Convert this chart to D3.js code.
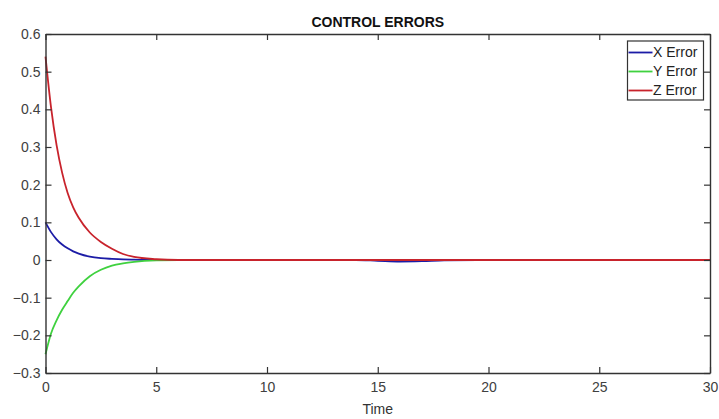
<!DOCTYPE html>
<html>
<head>
<meta charset="utf-8">
<script src="https://cdn.jsdelivr.net/npm/d3@7"></script>
<style>
  body { margin: 0; background: #fff; }
  text { font-family: "Liberation Sans", Arial, sans-serif; }
</style>
</head>
<body>
<div id="chart"></div>
<script>
// data
var time   = [0, 0.25, 0.5, 0.75, 1, 1.25, 1.5, 2, 2.5, 3, 3.5, 4, 5, 6, 8, 10, 12, 14, 15, 16, 17, 18, 20, 25, 30];
var xError = [0.1, 0.074, 0.055, 0.041, 0.031, 0.023, 0.017, 0.009, 0.005, 0.003, 0.0015, 0.0008, 0, 0, 0, 0, 0, 0, -0.002, -0.004, -0.003, -0.001, 0, 0, 0];
var yError = [-0.25, -0.195, -0.16, -0.132, -0.109, -0.087, -0.07, -0.043, -0.026, -0.015, -0.009, -0.005, -0.001, 0, 0, 0, 0, 0, 0, 0, 0, 0, 0, 0, 0];
var zError = [0.54, 0.405, 0.305, 0.232, 0.178, 0.14, 0.112, 0.073, 0.048, 0.03, 0.016, 0.008, 0.002, 0, 0, 0, 0, 0, 0, 0, 0, 0, 0, 0, 0];
var seriesNames = ["X Error", "Y Error", "Z Error"];
var seriesColors = ["#1c1ca6", "#3fd13f", "#c8232c"];
var xTicks = [0, 5, 10, 15, 20, 25, 30];
var yTicks = [-0.3, -0.2, -0.1, 0, 0.1, 0.2, 0.3, 0.4, 0.5, 0.6];

var W = 719, H = 419;
var margin = {top: 34, right: 9, bottom: 46, left: 45.5},
    width = W - margin.left - margin.right,
    height = H - margin.top - margin.bottom;

var svg = d3.select("#chart").append("svg")
    .attr("width", W)
    .attr("height", H);

var g = svg.append("g")
    .attr("transform", "translate(" + margin.left + "," + margin.top + ")");

var x = d3.scaleLinear().domain([0, 30]).range([0, width]);
var y = d3.scaleLinear().domain([-0.3, 0.6]).range([height, 0]);

var fmt = function(d) { return d === 0 ? "0" : d3.format("")(+d.toFixed(1)); };

// lines
var allSeries = [xError, yError, zError];
var line = d3.line()
    .x(function(d, i) { return x(time[i]); })
    .y(function(d) { return y(d); })
    .curve(d3.curveMonotoneX);

g.selectAll(".series")
    .data(allSeries)
    .enter().append("path")
    .attr("class", "series")
    .attr("fill", "none")
    .attr("stroke", function(d, i) { return seriesColors[i]; })
    .attr("stroke-width", 1.8)
    .attr("d", line);

// axes, ticks pointing inwards on all four sides
function styleAxis(sel) {
    sel.select(".domain").attr("stroke", "#333").attr("stroke-width", 1.4);
    sel.selectAll(".tick line").attr("stroke", "#333").attr("stroke-width", 1.2);
    sel.selectAll("text").attr("fill", "#404040").style("font-size", "14px")
        .style("font-family", "'Liberation Sans', Arial, sans-serif");
}

g.append("g")
    .attr("transform", "translate(0," + height + ")")
    .call(d3.axisBottom(x).tickValues(xTicks).tickSizeInner(-6).tickSizeOuter(0).tickPadding(9).tickFormat(fmt))
    .call(styleAxis);

g.append("g")
    .call(d3.axisLeft(y).tickValues(yTicks).tickSizeInner(-6).tickSizeOuter(0).tickPadding(5).tickFormat(fmt))
    .call(styleAxis);

g.append("g")
    .call(d3.axisTop(x).tickValues(xTicks).tickSizeInner(-6).tickSizeOuter(0).tickFormat(""))
    .call(styleAxis);

g.append("g")
    .attr("transform", "translate(" + width + ",0)")
    .call(d3.axisRight(y).tickValues(yTicks).tickSizeInner(-6).tickSizeOuter(0).tickFormat(""))
    .call(styleAxis);

// title and axis label
svg.append("text")
    .attr("x", margin.left + width / 2)
    .attr("y", 27)
    .attr("text-anchor", "middle")
    .style("font-size", "14px")
    .style("font-weight", "bold")
    .attr("fill", "#111")
    .text("CONTROL ERRORS");

svg.append("text")
    .attr("x", margin.left + width / 2)
    .attr("y", 414)
    .attr("text-anchor", "middle")
    .style("font-size", "14px")
    .attr("fill", "#333")
    .text("Time");

// legend
var legend = g.append("g")
    .attr("transform", "translate(" + (width - 82.5) + ",7)");

legend.append("rect")
    .attr("width", 76)
    .attr("height", 59)
    .attr("fill", "#fff")
    .attr("stroke", "#333")
    .attr("stroke-width", 1.2);

var items = legend.selectAll(".item")
    .data(seriesNames)
    .enter().append("g")
    .attr("class", "item")
    .attr("transform", function(d, i) { return "translate(0," + (11.5 + i * 19) + ")"; });

items.append("line")
    .attr("x1", 1).attr("x2", 25)
    .attr("stroke", function(d, i) { return seriesColors[i]; })
    .attr("stroke-width", 1.8);

items.append("text")
    .attr("x", 25.5)
    .attr("dy", "0.35em")
    .style("font-size", "14px")
    .attr("fill", "#222")
    .text(function(d) { return d; });
</script>
</body>
</html>
